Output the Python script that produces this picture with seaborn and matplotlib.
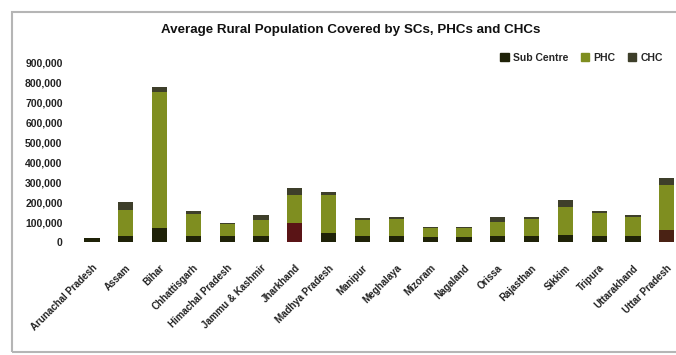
import matplotlib
matplotlib.use("Agg")
import matplotlib.pyplot as plt
import matplotlib.patches as mpatches
from matplotlib.ticker import FuncFormatter
import seaborn as sns
import pandas as pd

states = [
    "Arunachal Pradesh", "Assam", "Bihar", "Chhattisgarh", "Himachal Pradesh",
    "Jammu & Kashmir", "Jharkhand", "Madhya Pradesh", "Manipur", "Meghalaya",
    "Mizoram", "Nagaland", "Orissa", "Rajasthan", "Sikkim", "Tripura",
    "Uttarakhand", "Uttar Pradesh",
]
sc_pop = [20000, 30000, 70000, 30000, 30000, 30000, 95000, 45000, 30000,
          30000, 25000, 25000, 30000, 30000, 35000, 30000, 30000, 60000]
phc_pop = [0, 130000, 685000, 110000, 60000, 80000, 140000, 190000, 80000,
           85000, 45000, 45000, 70000, 85000, 140000, 115000, 95000, 225000]
chc_pop = [0, 40000, 25000, 15000, 5000, 25000, 35000, 15000, 10000,
           10000, 5000, 5000, 25000, 10000, 35000, 10000, 10000, 35000]
y_ticks = [0, 100000, 200000, 300000, 400000, 500000, 600000, 700000, 800000, 900000]

df = pd.DataFrame({"state": states, "sc": sc_pop, "phc": phc_pop, "chc": chc_pop})
df["lvl1"] = df["sc"]
df["lvl2"] = df["sc"] + df["phc"]
df["lvl3"] = df["lvl2"] + df["chc"]

sns.set_theme(style="white")
plt.rcParams["font.family"] = ["Liberation Sans", "DejaVu Sans"]

W, H = 676, 355
fig = plt.figure(figsize=(W / 100, H / 100), dpi=100)
ax = fig.add_axes([75 / W, (H - 242) / H, 601 / W, 179 / H])

col_sc = "#1f2208"
col_phc = "#7f8e20"
col_chc = "#3e3f2a"
bw = 0.45

# stacked segments, drawn from the full height down
sns.barplot(data=df, x="state", y="lvl3", color=col_chc, width=bw, ax=ax,
            saturation=1, errorbar=None)
sns.barplot(data=df, x="state", y="lvl2", color=col_phc, width=bw, ax=ax,
            saturation=1, errorbar=None)
sns.barplot(data=df, x="state", y="lvl1", color=col_sc, width=bw, ax=ax,
            saturation=1, errorbar=None)

# reddish base on two of the bars
n = len(states)
bottoms = ax.patches[2 * n:3 * n]
bottoms[6].set_facecolor("#5a1416")
bottoms[17].set_facecolor("#4a2214")

for p in ax.patches:
    p.set_edgecolor("none")

ax.set_xlim(-0.5, 17.27)
ax.set_ylim(0, 900000)
ax.set_yticks(y_ticks)
ax.yaxis.set_major_formatter(FuncFormatter(lambda v, _: f"{int(v):,}"))
ax.set_xlabel("")
ax.set_ylabel("")
for s in ax.spines.values():
    s.set_visible(False)

ax.tick_params(axis="y", length=0, pad=9, labelsize=7.5, labelcolor="#222222")
ax.tick_params(axis="x", length=0, pad=15, labelsize=7, labelcolor="#222222")
for lab in ax.get_yticklabels():
    lab.set_fontweight("bold")
ax.set_xticks(range(n))
ax.set_xticklabels(states, rotation=45, ha="right", va="top",
                   rotation_mode="anchor", fontweight="bold")

fig.text(351 / W, (H - 30) / H, "Average Rural Population Covered by SCs, PHCs and CHCs",
         ha="center", va="center", fontsize=9.6, fontweight="bold", color="#111111")

handles = [mpatches.Patch(color=col_sc, label="Sub Centre"),
           mpatches.Patch(color=col_phc, label="PHC"),
           mpatches.Patch(color=col_chc, label="CHC")]
fig.legend(handles=handles, loc="center right", bbox_to_anchor=(672 / W, (H - 58) / H),
           ncol=3, frameon=False, handlelength=0.8, handleheight=0.8,
           handletextpad=0.4, columnspacing=1.2, prop={"weight": "bold", "size": 7.5})

# outer chart frame
frame = mpatches.Rectangle((12 / W, (H - 352) / H), 700 / W, 340 / H,
                           transform=fig.transFigure, fill=False,
                           edgecolor="#b5b5b5", linewidth=1.5, clip_on=False)
fig.patches.append(frame)

fig.savefig("out.png", dpi=100)
